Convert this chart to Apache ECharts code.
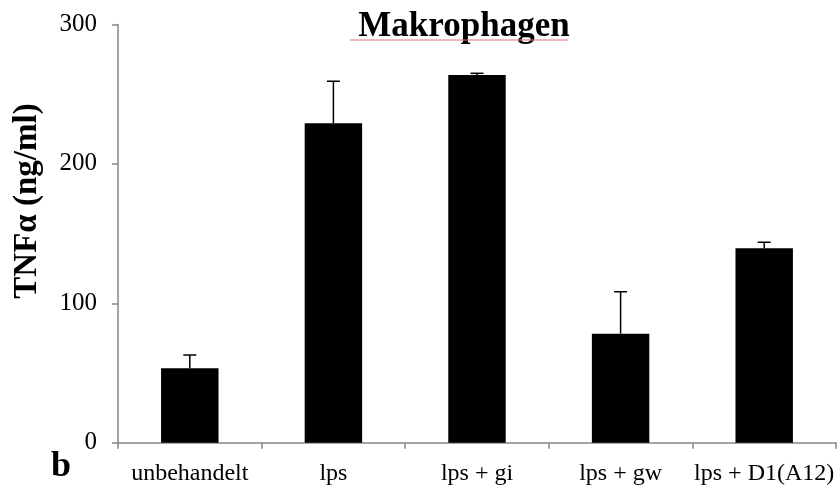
<!DOCTYPE html>
<html>
<head>
<meta charset="utf-8">
<script src="https://cdn.jsdelivr.net/npm/echarts@6/dist/echarts.min.js"></script>
<style>
  html, body { margin: 0; padding: 0; background: #fff; }
  #chart { width: 840px; height: 490px; }
</style>
</head>
<body>
<div id="chart"></div>
<script>
const categories = ['unbehandelt', 'lps', 'lps + gi', 'lps + gw', 'lps + D1(A12)']
const means = [53.4, 229.1, 263.8, 78.2, 139.5]
const errUpper = [62.9, 259.3, 265, 108.3, 143.8]
const yTicks = [0, 100, 200, 300]

const serif = "'Liberation Serif', 'DejaVu Serif', serif"
const axisGray = '#868686'

const myChart = echarts.init(document.getElementById('chart'), null, { renderer: 'canvas' })

const errorData = categories.map((c, i) => [i, means[i], errUpper[i]])

const option = {
  animation: false,
  title: {
    text: 'Makrophagen',
    left: 459,
    top: 4,
    textAlign: 'center',
    textStyle: { fontFamily: serif, fontWeight: 'bold', fontSize: 35, color: '#000' }
  },
  grid: { left: 118, right: 4, top: 24.5, bottom: 47.3, containLabel: false, outerBoundsMode: 'none' },
  xAxis: {
    type: 'category',
    data: categories,
    axisLine: { lineStyle: { color: axisGray, width: 1.5 } },
    axisTick: { show: true, length: 6, lineStyle: { color: axisGray, width: 1.5 } },
    axisLabel: { fontFamily: serif, fontSize: 24, color: '#000', margin: 19, interval: 0 }
  },
  yAxis: {
    type: 'value',
    min: yTicks[0],
    max: yTicks[yTicks.length - 1],
    interval: 100,
    axisLine: { show: true, lineStyle: { color: axisGray, width: 1.5 } },
    axisTick: { show: true, length: 6, lineStyle: { color: axisGray, width: 1.5 } },
    splitLine: { show: false },
    axisLabel: { fontFamily: serif, fontSize: 25, color: '#000', margin: 21 }
  },
  graphic: [
    {
      type: 'text',
      x: 27,
      y: 201,
      rotation: Math.PI / 2,
      style: {
        text: 'TNFα (ng/ml)',
        font: "bold 33px 'Liberation Serif', serif",
        fill: '#000',
        align: 'center',
        verticalAlign: 'middle'
      }
    },
    {
      type: 'text',
      left: 51,
      top: 449,
      style: { text: 'b', font: "bold 36px 'Liberation Serif', serif", fill: '#000' }
    },
    {
      type: 'line',
      z: 10,
      shape: { x1: 350, y1: 40, x2: 568, y2: 40 },
      style: { stroke: '#e07070', lineWidth: 1 }
    }
  ],
  series: [
    {
      type: 'bar',
      data: means,
      barWidth: '40%',
      itemStyle: { color: '#000' },
      z: 2
    },
    {
      type: 'custom',
      data: errorData,
      z: 3,
      renderItem: (params, api) => {
        const idx = api.value(0)
        const base = api.coord([idx, api.value(1)])
        const top = api.coord([idx, api.value(2)])
        const half = 6.5
        return {
          type: 'group',
          children: [
            { type: 'line', shape: { x1: base[0], y1: base[1], x2: top[0], y2: top[1] }, style: { stroke: '#000', lineWidth: 1.5 } },
            { type: 'line', shape: { x1: top[0] - half, y1: top[1], x2: top[0] + half, y2: top[1] }, style: { stroke: '#000', lineWidth: 1.5 } }
          ]
        }
      }
    }
  ]
}

myChart.setOption(option)
</script>
</body>
</html>
